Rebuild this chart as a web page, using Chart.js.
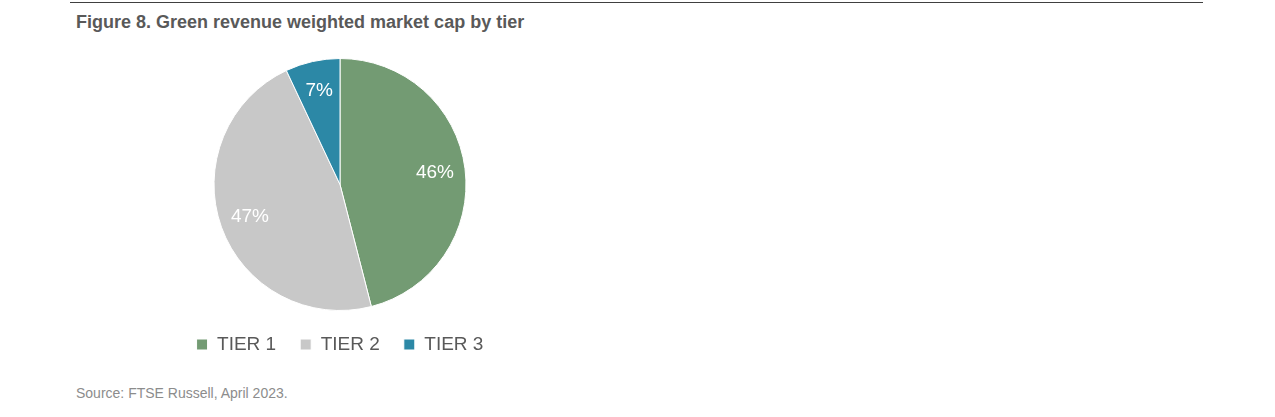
<!DOCTYPE html>
<html><head><meta charset="utf-8">
<script src="https://cdn.jsdelivr.net/npm/chart.js@4"></script>
<style>
body{margin:0;width:1275px;height:417px;background:#fff;font-family:Arial,"Liberation Sans",sans-serif;position:relative;overflow:hidden}
#line{position:absolute;left:70px;top:2px;width:1133px;height:1px;background:#404040}
#title{position:absolute;left:76px;top:12px;font-size:18px;font-weight:bold;color:#595959}
#src{position:absolute;left:76px;top:385px;font-size:14px;color:#8c8c8c}
#wrap{position:absolute;left:140px;top:54px;width:400px;height:310px}
</style></head><body>
<div id="line"></div>
<div id="title">Figure 8. Green revenue weighted market cap by tier</div>
<div id="wrap"><canvas id="c"></canvas></div>
<div id="src">Source: FTSE Russell, April 2023.</div>
<script>
const categories=["TIER 1","TIER 2","TIER 3"];
const values=[46,47,7];
const colors=["#739B73","#C8C8C8","#2C88A6"];
const labelPlugin={id:"lbl",afterDatasetsDraw(chart){
 const ctx=chart.ctx;const meta=chart.getDatasetMeta(0);
 ctx.save();ctx.fillStyle="#fff";ctx.font="19px Arial, 'Liberation Sans'";ctx.textAlign="center";ctx.textBaseline="middle";
 meta.data.forEach((a,i)=>{const ang=(a.startAngle+a.endAngle)/2;const r=a.outerRadius*0.76;
  ctx.fillText(values[i]+"%",a.x+Math.cos(ang)*r,a.y+Math.sin(ang)*r);});
 ctx.restore();}};
new Chart(document.getElementById("c"),{type:"pie",
 data:{labels:categories,datasets:[{data:values,backgroundColor:colors,borderColor:"#fff",borderWidth:1}]},
 options:{responsive:true,maintainAspectRatio:false,animation:false,
  layout:{padding:{top:4,bottom:0}},
  plugins:{tooltip:{enabled:false},
   legend:{position:"bottom",labels:{boxWidth:11,boxHeight:11,padding:24,color:"#595959",font:{size:19,family:"Arial, 'Liberation Sans'"}}}}},
 plugins:[labelPlugin]});
</script></body></html>
